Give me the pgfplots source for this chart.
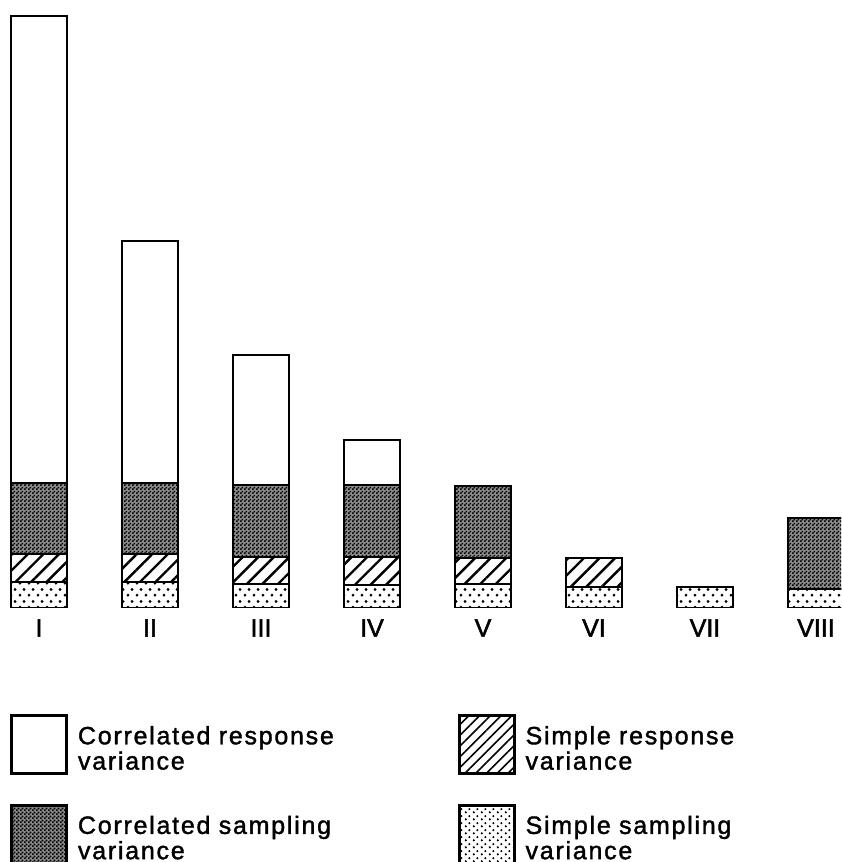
\documentclass[border=0pt]{standalone}
\usepackage{fontspec}
\setmainfont{Liberation Sans}
\newfontfamily\legfont{Liberation Sans}[LetterSpace=7, FakeBold=1.5]
\newfontfamily\tickfont{Liberation Sans}[FakeBold=2]
\usepackage{pgfplots}
\usepackage{pgfplotstable}
\pgfplotsset{compat=1.18}
\usetikzlibrary{patterns,patterns.meta}

% fine halftone for the correlated sampling part
\pgfdeclarepatternformonly{finechecker}{\pgfpointorigin}{\pgfpoint{2pt}{2pt}}{\pgfpoint{2pt}{2pt}}{%
  \pgfpathrectangle{\pgfpointorigin}{\pgfpoint{1pt}{1pt}}%
  \pgfpathrectangle{\pgfpoint{1pt}{1pt}}{\pgfpoint{1pt}{1pt}}%
  \pgfusepath{fill}}
% staggered dots for the simple sampling part (bars)
\pgfdeclarepatternformonly{stagdots}{\pgfpointorigin}{\pgfpoint{4.5pt}{6pt}}{\pgfpoint{4.5pt}{6pt}}{%
  \pgfpathcircle{\pgfpoint{1.1pt}{1.5pt}}{0.85pt}%
  \pgfpathcircle{\pgfpoint{3.35pt}{4.5pt}}{0.85pt}%
  \pgfusepath{fill}}
% finer dots for the legend box
\pgfdeclarepatternformonly{smalldots}{\pgfpointorigin}{\pgfpoint{4pt}{3.6pt}}{\pgfpoint{4pt}{3.6pt}}{%
  \pgfpathcircle{\pgfpoint{1pt}{0.9pt}}{0.65pt}%
  \pgfpathcircle{\pgfpoint{3pt}{2.7pt}}{0.65pt}%
  \pgfusepath{fill}}

\tikzset{
  crresp/.style={draw=black, line width=1.3pt, fill=white},
  crsamp/.style={draw=black, line width=1.3pt, fill=black!45, postaction={pattern=finechecker}},
  simresp/.style={draw=black, line width=1.3pt, fill=white, postaction={pattern={Lines[angle=45,distance=5.5pt,line width=1.2pt]}}},
  simsamp/.style={draw=black, line width=1.3pt, fill=white, postaction={pattern=stagdots}},
  simrespleg/.style={draw=black, line width=1.3pt, fill=white, postaction={pattern={Lines[angle=45,distance=3.8pt,line width=0.8pt]}}},
  simsampleg/.style={draw=black, line width=1.3pt, fill=white, postaction={pattern=smalldots}},
}
\pgfplotsset{boxlegend/.style={legend image code/.code={\draw[##1] (0pt,-14.5pt) rectangle (27.5pt,14.5pt);}}}

% heights of the four parts of each bar
\pgfplotstableread{
x ss sr cs cr
0 26 28 71 467
1 26 28 71 242
2 24 27 72 130
3 23 28 72 45
4 24 26 72 0
5 21 29 0 0
6 21 0 0 0
7 19 0 71 0
}\vartable

\begin{document}
\begin{tikzpicture}
\begin{axis}[
  at={(0pt,127pt)}, anchor=south west,
  scale only axis, width=420.5pt, height=300pt,
  ybar stacked, bar width=0.505,
  xmin=-0.3514, xmax=7.2252, ymin=0, ymax=600,
  xtick={0,...,7}, xticklabels={I,II,III,IV,V,VI,VII,VIII},
  ytick=\empty,
  axis line style={draw=none}, tick style={draw=none},
  xticklabel style={font=\tickfont\fontsize{12.5}{14}\selectfont, inner sep=0pt, yshift=-5.5pt},
  every axis plot post/.append style={boxlegend},
  legend style={at={(axis description cs:0.01189,-0.1767)}, anchor=north west,
    draw=none, fill=none, inner sep=0pt,
    column sep=5pt, row sep=14.5pt,
    font=\legfont\fontsize{12.5}{11}\selectfont,
    nodes={text width=185pt, align=left, inner sep=0pt, anchor=west, yshift=4pt}},
  legend columns=2,
]
\addlegendimage{crresp}
\addlegendentry{Correlated response\\variance}
\addlegendimage{simrespleg}
\addlegendentry{Simple response\\variance}
\addlegendimage{crsamp}
\addlegendentry{Correlated sampling\\variance}
\addlegendimage{simsampleg}
\addlegendentry{Simple sampling\\variance}

\addplot[simsamp] table[x=x, y=ss] {\vartable};
\addplot[simresp] table[x=x, y=sr] {\vartable};
\addplot[crsamp] table[x=x, y=cs] {\vartable};
\addplot[crresp] table[x=x, y=cr] {\vartable};
\end{axis}
\pgfresetboundingbox
\useasboundingbox (0,0) rectangle (420.5pt,431pt);
\end{tikzpicture}
\end{document}
